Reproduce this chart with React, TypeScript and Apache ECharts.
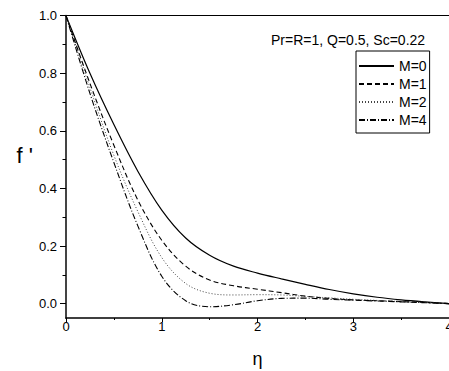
import React, { useEffect, useRef } from "react";
import * as echarts from "echarts";

const eta = [0, 0.25, 0.5, 0.75, 1.0, 1.25, 1.5, 1.75, 2.0, 2.25, 2.5, 2.75, 3.0, 3.25, 3.5, 3.75, 4.0];
const m0 = [1.0, 0.8, 0.622, 0.46, 0.325, 0.228, 0.168, 0.13, 0.106, 0.086, 0.067, 0.049, 0.034, 0.022, 0.013, 0.006, 0.0];
const m1 = [1.0, 0.765, 0.55, 0.36, 0.22, 0.13, 0.082, 0.062, 0.05, 0.038, 0.026, 0.018, 0.013, 0.01, 0.007, 0.004, 0.0];
const m2 = [1.0, 0.75, 0.515, 0.32, 0.16, 0.07, 0.036, 0.03, 0.031, 0.03, 0.025, 0.02, 0.015, 0.011, 0.007, 0.004, 0.0];
const m4 = [1.0, 0.73, 0.49, 0.27, 0.095, 0.01, -0.011, -0.004, 0.01, 0.018, 0.019, 0.015, 0.012, 0.009, 0.006, 0.003, 0.0];
const seriesNames = ["M=0", "M=1", "M=2", "M=4"];
const yMajor = [0, 0.2, 0.4, 0.6, 0.8, 1.0];
const yMinor = [0.1, 0.3, 0.5, 0.7, 0.9];
const annotation = "Pr=R=1, Q=0.5, Sc=0.22";

const FONT = "'Liberation Sans', Arial, sans-serif";

export default function App() {
  const ref = useRef<HTMLDivElement>(null);
  useEffect(() => {
    if (!ref.current) return;
    const chart = echarts.init(ref.current, undefined, { renderer: "svg" });
    const vals = [m0, m1, m2, m4];
    const styles: any[] = [
      { color: "#000", width: 1.2, type: "solid" },
      { color: "#000", width: 1.1, type: [5, 3] },
      { color: "#444", width: 1.0, type: [1, 2] },
      { color: "#000", width: 1.1, type: [6, 2, 1, 2] },
    ];
    chart.setOption({
      animation: false,
      textStyle: { fontFamily: FONT },
      grid: { left: 66, right: 0, top: 15.7, bottom: 53, outerBoundsMode: "none", containLabel: false },
      legend: {
        orient: "vertical",
        left: 356,
        top: 51,
        padding: [8, 3, 6, 2],
        itemGap: 4,
        itemWidth: 35,
        itemHeight: 12,
        borderColor: "#000",
        borderWidth: 1,
        borderRadius: 0,
        itemStyle: { opacity: 0 },
        textStyle: { fontSize: 14, color: "#000", fontFamily: FONT },
        data: seriesNames,
      },
      graphic: [
        {
          type: "text",
          left: 271,
          top: 33,
          style: { text: annotation, fontSize: 14, fill: "#000", fontFamily: FONT },
        },
      ],
      xAxis: [
        {
          type: "value",
          min: 0,
          max: 4,
          interval: 1,
          name: "η",
          nameLocation: "middle",
          nameGap: 32,
          nameTextStyle: { fontSize: 18, color: "#000", fontFamily: FONT },
          axisLine: { show: true, onZero: false, lineStyle: { color: "#000", width: 1.5 } },
          axisTick: { show: true, inside: false, length: 4, lineStyle: { color: "#000" } },
          minorTick: { show: true, splitNumber: 2, length: 2, lineStyle: { color: "#000" } },
          axisLabel: { fontSize: 13, color: "#000", margin: 2, fontFamily: FONT },
          splitLine: { show: false },
        },
        {
          type: "value",
          position: "top",
          min: 0,
          max: 4,
          axisLine: { show: true, onZero: false, lineStyle: { color: "#000", width: 1.2 } },
          axisTick: { show: false },
          axisLabel: { show: false },
          splitLine: { show: false },
        },
      ],
      yAxis: [
        {
          type: "value",
          min: -0.05,
          max: 1.0,
          name: "f '",
          nameLocation: "middle",
          nameRotate: 0,
          nameGap: 33,
          nameTextStyle: { fontSize: 22, color: "#000", fontFamily: FONT, verticalAlign: "bottom" },
          axisLine: { show: true, onZero: false, lineStyle: { color: "#444", width: 2 } },
          axisTick: { show: true, length: 6, customValues: yMajor, lineStyle: { color: "#000" } },
          axisLabel: {
            fontSize: 13,
            color: "#000",
            margin: 9,
            customValues: yMajor,
            formatter: (v: number) => v.toFixed(1),
            fontFamily: FONT,
          },
          splitLine: { show: false },
        },
        {
          type: "value",
          min: -0.05,
          max: 1.0,
          position: "left",
          axisLine: { show: false, onZero: false },
          axisTick: { show: true, length: 3.5, customValues: yMinor, lineStyle: { color: "#000" } },
          axisLabel: { show: false },
          splitLine: { show: false },
        },
      ],
      series: seriesNames.map((n, i) => ({
        name: n,
        type: "line",
        xAxisIndex: 0,
        yAxisIndex: 0,
        symbol: "none",
        showSymbol: false,
        smooth: 0.35,
        lineStyle: styles[i],
        itemStyle: { color: styles[i].color },
        data: eta.map((x, j) => [x, vals[i][j]]),
      })),
    });
    return () => chart.dispose();
  }, []);
  return (
    <div
      ref={ref}
      style={{ position: "absolute", left: 0, top: 0, width: 449, height: 371, background: "#fff" }}
    />
  );
}
